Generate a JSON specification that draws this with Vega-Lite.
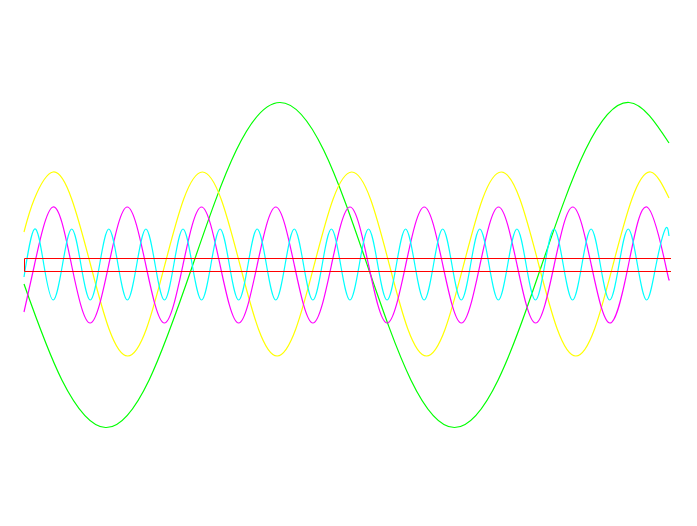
{
  "$schema": "https://vega.github.io/schema/vega-lite/v6.json",
  "width": 697,
  "height": 526,
  "autosize": {"type": "fit", "contains": "padding"},
  "padding": 0,
  "background": "white",
  "config": {"view": {"stroke": null}},
  "datasets": {
    "green": [
      {"t": 0, "v": -19}, {"t": 37.88, "v": -114.9}, {"t": 81.5, "v": -162.5}, {"t": 125.13, "v": -114.9},
      {"t": 168.75, "v": 0}, {"t": 212.38, "v": 114.9}, {"t": 256, "v": 162.5}, {"t": 299.63, "v": 114.9},
      {"t": 343.25, "v": 0}, {"t": 386.88, "v": -114.9}, {"t": 430.5, "v": -162.5}, {"t": 474.13, "v": -114.9},
      {"t": 517.75, "v": 0}, {"t": 561.38, "v": 114.9}, {"t": 605, "v": 162.5}, {"t": 645, "v": 122}
    ],
    "yellow": [
      {"t": 0, "v": 33}, {"t": 10.33, "v": 66}, {"t": 29, "v": 93}, {"t": 47.68, "v": 66},
      {"t": 66.35, "v": 1}, {"t": 85.03, "v": -64}, {"t": 103.7, "v": -91}, {"t": 122.38, "v": -64},
      {"t": 141.05, "v": 1}, {"t": 159.73, "v": 66}, {"t": 178.4, "v": 93}, {"t": 197.08, "v": 66},
      {"t": 215.75, "v": 1}, {"t": 234.43, "v": -64}, {"t": 253.1, "v": -91}, {"t": 271.78, "v": -64},
      {"t": 290.45, "v": 1}, {"t": 309.13, "v": 66}, {"t": 327.8, "v": 93}, {"t": 346.48, "v": 66},
      {"t": 365.15, "v": 1}, {"t": 383.83, "v": -64}, {"t": 402.5, "v": -91}, {"t": 421.18, "v": -64},
      {"t": 439.85, "v": 1}, {"t": 458.53, "v": 66}, {"t": 477.2, "v": 93}, {"t": 495.88, "v": 66},
      {"t": 514.55, "v": 1}, {"t": 533.23, "v": -64}, {"t": 551.9, "v": -91}, {"t": 570.58, "v": -64},
      {"t": 589.25, "v": 1}, {"t": 607.93, "v": 66}, {"t": 626.6, "v": 93}, {"t": 645, "v": 67}
    ],
    "magenta": [
      {"t": 0, "v": -47}, {"t": 10.44, "v": 0}, {"t": 29, "v": 58}, {"t": 47.56, "v": 0},
      {"t": 66.13, "v": -58}, {"t": 84.69, "v": 0}, {"t": 103.25, "v": 58}, {"t": 121.81, "v": 0},
      {"t": 140.38, "v": -58}, {"t": 158.94, "v": 0}, {"t": 177.5, "v": 58}, {"t": 196.06, "v": 0},
      {"t": 214.63, "v": -58}, {"t": 233.19, "v": 0}, {"t": 251.75, "v": 58}, {"t": 270.31, "v": 0},
      {"t": 288.88, "v": -58}, {"t": 307.44, "v": 0}, {"t": 326, "v": 58}, {"t": 344.56, "v": 0},
      {"t": 363.13, "v": -58}, {"t": 381.69, "v": 0}, {"t": 400.25, "v": 58}, {"t": 418.81, "v": 0},
      {"t": 437.38, "v": -58}, {"t": 455.94, "v": 0}, {"t": 474.5, "v": 58}, {"t": 493.06, "v": 0},
      {"t": 511.63, "v": -58}, {"t": 530.19, "v": 0}, {"t": 548.75, "v": 58}, {"t": 567.31, "v": 0},
      {"t": 585.88, "v": -58}, {"t": 604.44, "v": 0}, {"t": 623, "v": 58}, {"t": 641.56, "v": 0},
      {"t": 645, "v": -14}
    ],
    "cyan": [
      {"t": 0, "v": -12}, {"t": 10.6, "v": 36}, {"t": 19.88, "v": 0}, {"t": 29.15, "v": -35}, {"t": 38.43, "v": 0},
      {"t": 47.7, "v": 36}, {"t": 56.98, "v": 0}, {"t": 66.25, "v": -35}, {"t": 75.53, "v": 0},
      {"t": 84.8, "v": 36}, {"t": 94.08, "v": 0}, {"t": 103.35, "v": -35}, {"t": 112.63, "v": 0},
      {"t": 121.9, "v": 36}, {"t": 131.18, "v": 0}, {"t": 140.45, "v": -35}, {"t": 149.73, "v": 0},
      {"t": 159, "v": 36}, {"t": 168.28, "v": 0}, {"t": 177.55, "v": -35}, {"t": 186.83, "v": 0},
      {"t": 196.1, "v": 36}, {"t": 205.38, "v": 0}, {"t": 214.65, "v": -35}, {"t": 223.93, "v": 0},
      {"t": 233.2, "v": 36}, {"t": 242.48, "v": 0}, {"t": 251.75, "v": -35}, {"t": 261.03, "v": 0},
      {"t": 270.3, "v": 36}, {"t": 279.58, "v": 0}, {"t": 288.85, "v": -35}, {"t": 298.13, "v": 0},
      {"t": 307.4, "v": 36}, {"t": 316.68, "v": 0}, {"t": 325.95, "v": -35}, {"t": 335.23, "v": 0},
      {"t": 344.5, "v": 36}, {"t": 353.78, "v": 0}, {"t": 363.05, "v": -35}, {"t": 372.33, "v": 0},
      {"t": 381.6, "v": 36}, {"t": 390.88, "v": 0}, {"t": 400.15, "v": -35}, {"t": 409.43, "v": 0},
      {"t": 418.7, "v": 36}, {"t": 427.98, "v": 0}, {"t": 437.25, "v": -35}, {"t": 446.53, "v": 0},
      {"t": 455.8, "v": 36}, {"t": 465.08, "v": 0}, {"t": 474.35, "v": -35}, {"t": 483.63, "v": 0},
      {"t": 492.9, "v": 36}, {"t": 502.18, "v": 0}, {"t": 511.45, "v": -35}, {"t": 520.73, "v": 0},
      {"t": 530, "v": 36}, {"t": 539.28, "v": 0}, {"t": 548.55, "v": -35}, {"t": 557.83, "v": 0},
      {"t": 567.1, "v": 36}, {"t": 576.38, "v": 0}, {"t": 585.65, "v": -35}, {"t": 594.93, "v": 0},
      {"t": 604.2, "v": 36}, {"t": 613.48, "v": 0}, {"t": 622.75, "v": -35}, {"t": 632.03, "v": 0},
      {"t": 641.3, "v": 36}, {"t": 645, "v": 29}
    ],
    "red": [
      {"t": 647, "v": -6.5, "o": 0}, {"t": 0.5, "v": -6.5, "o": 1}, {"t": 0.5, "v": 6.5, "o": 2}, {"t": 647, "v": 6.5, "o": 3}
    ]
  },
  "encoding": {
    "x": {"field": "t", "type": "quantitative", "scale": {"domain": [-24, 673], "nice": false, "zero": false}, "axis": null},
    "y": {"field": "v", "type": "quantitative", "scale": {"domain": [-261, 265], "nice": false, "zero": false}, "axis": null}
  },
  "layer": [
    {"data": {"name": "green"}, "mark": {"type": "line", "color": "#00ff00", "strokeWidth": 1.2, "interpolate": "natural"}},
    {"data": {"name": "yellow"}, "mark": {"type": "line", "color": "#ffff00", "strokeWidth": 1.2, "interpolate": "natural"}},
    {"data": {"name": "magenta"}, "mark": {"type": "line", "color": "#ff00ff", "strokeWidth": 1.2, "interpolate": "natural"}},
    {"data": {"name": "cyan"}, "mark": {"type": "line", "color": "#00ffff", "strokeWidth": 1.2, "interpolate": "natural"}},
    {"data": {"name": "red"}, "mark": {"type": "line", "color": "#ff0000", "strokeWidth": 1}, "encoding": {"order": {"field": "o", "type": "quantitative"}}}
  ]
}
